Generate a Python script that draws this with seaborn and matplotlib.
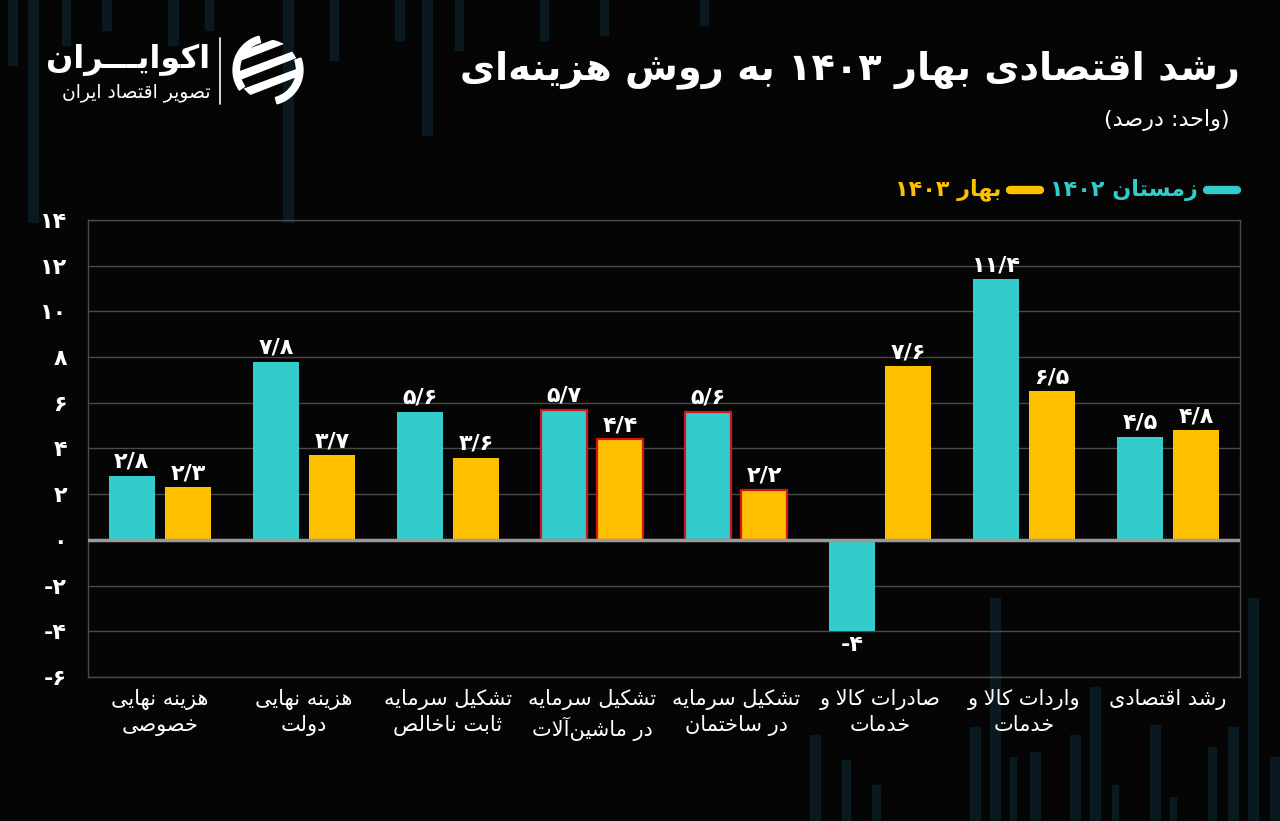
import re
import numpy as np
import pandas as pd
import matplotlib
matplotlib.use('Agg')
import matplotlib.pyplot as plt
from matplotlib import font_manager
from matplotlib.ft2font import FT2Font
from matplotlib.patches import Rectangle, Circle, Polygon, Wedge, FancyBboxPatch
from matplotlib.lines import Line2D
import seaborn as sns

# data
categories = ['هزینه نهایی\nخصوصی', 'هزینه نهایی\nدولت', 'تشکیل سرمایه\nثابت ناخالص',
              'تشکیل سرمایه\nدر ماشین‌آلات', 'تشکیل سرمایه\nدر ساختمان',
              'صادرات کالا و\nخدمات', 'واردات کالا و\nخدمات', 'رشد اقتصادی']
series = ['زمستان ۱۴۰۲', 'بهار ۱۴۰۳']
winter_1402 = [2.8, 7.8, 5.6, 5.7, 5.6, -4, 11.4, 4.5]
spring_1403 = [2.3, 3.7, 3.6, 4.4, 2.2, 7.6, 6.5, 4.8]
highlighted = [3, 4]
y_ticks = [-6, -4, -2, 0, 2, 4, 6, 8, 10, 12, 14]

title = 'رشد اقتصادی بهار ۱۴۰۳ به روش هزینه‌ای'
subtitle = '(واحد: درصد)'

teal = '#33CCCC'
yellow = '#FFC000'
bg = '#050505'
stripe = '#09191f'

sns.set_theme(style='dark')
plt.rcParams['font.family'] = ['DejaVu Sans']

# --- small arabic/persian shaping (matplotlib has no bidi) ---
reg_path = font_manager.findfont(font_manager.FontProperties(family='DejaVu Sans'))
bold_path = font_manager.findfont(font_manager.FontProperties(family='DejaVu Sans', weight='bold'))
fonts = [FT2Font(reg_path), FT2Font(bold_path)]


def has(cps):
    return all(f.get_char_index(c) for f in fonts for c in cps)


FORMS = {
    'ا': (0xFE8D, 0xFE8E), 'آ': (0xFE81, 0xFE82), 'د': (0xFEA9, 0xFEAA), 'ذ': (0xFEAB, 0xFEAC),
    'ر': (0xFEAD, 0xFEAE), 'ز': (0xFEAF, 0xFEB0), 'و': (0xFEED, 0xFEEE),
    'ب': (0xFE8F, 0xFE90, 0xFE91, 0xFE92), 'ت': (0xFE95, 0xFE96, 0xFE97, 0xFE98),
    'ث': (0xFE99, 0xFE9A, 0xFE9B, 0xFE9C), 'ج': (0xFE9D, 0xFE9E, 0xFE9F, 0xFEA0),
    'ح': (0xFEA1, 0xFEA2, 0xFEA3, 0xFEA4), 'خ': (0xFEA5, 0xFEA6, 0xFEA7, 0xFEA8),
    'س': (0xFEB1, 0xFEB2, 0xFEB3, 0xFEB4), 'ش': (0xFEB5, 0xFEB6, 0xFEB7, 0xFEB8),
    'ص': (0xFEB9, 0xFEBA, 0xFEBB, 0xFEBC), 'ض': (0xFEBD, 0xFEBE, 0xFEBF, 0xFEC0),
    'ط': (0xFEC1, 0xFEC2, 0xFEC3, 0xFEC4), 'ع': (0xFEC9, 0xFECA, 0xFECB, 0xFECC),
    'ف': (0xFED1, 0xFED2, 0xFED3, 0xFED4), 'ق': (0xFED5, 0xFED6, 0xFED7, 0xFED8),
    'ل': (0xFEDD, 0xFEDE, 0xFEDF, 0xFEE0), 'م': (0xFEE1, 0xFEE2, 0xFEE3, 0xFEE4),
    'ن': (0xFEE5, 0xFEE6, 0xFEE7, 0xFEE8), 'ه': (0xFEE9, 0xFEEA, 0xFEEB, 0xFEEC),
}
ye = (0xFBFC, 0xFBFD, 0xFBFE, 0xFBFF)
FORMS['ی'] = ye if has(ye) else (0xFEEF, 0xFEF0, 0xFEF3, 0xFEF4)
kaf = (0xFB8E, 0xFB8F, 0xFB90, 0xFB91)
FORMS['ک'] = kaf if has(kaf) else (0xFED9, 0xFEDA, 0xFEDB, 0xFEDC)
LAM_ALEF = {'ا': (0xFEFB, 0xFEFC), 'آ': (0xFEF5, 0xFEF6)}
TATWEEL = '\u0640'
ZWNJ = '\u200c'

fa_digits = '۰۱۲۳۴۵۶۷۸۹' if has([0x06F0 + i for i in range(10)]) else '٠١٢٣٤٥٦٧٨٩'


def joins_next(c):
    return c == TATWEEL or (c in FORMS and len(FORMS[c]) == 4)


def joinable(c):
    return c == TATWEEL or c in FORMS


def shape(text):
    out = []
    n = len(text)
    i = 0
    while i < n:
        c = text[i]
        if c == ZWNJ:
            i += 1
            continue
        if c not in FORMS:
            out.append(c)
            i += 1
            continue
        link_prev = i > 0 and joins_next(text[i - 1])
        if c == 'ل' and i + 1 < n and text[i + 1] in LAM_ALEF:
            lig = LAM_ALEF[text[i + 1]]
            out.append(chr(lig[1] if link_prev else lig[0]))
            i += 2
            continue
        f = FORMS[c]
        link_next = len(f) == 4 and i + 1 < n and joinable(text[i + 1])
        if link_prev and link_next:
            code = f[3]
        elif link_prev:
            code = f[1]
        elif link_next:
            code = f[2]
        else:
            code = f[0]
        out.append(chr(code))
        i += 1
    return ''.join(out)


def fa(text):
    text = text.translate(str.maketrans('۰۱۲۳۴۵۶۷۸۹', fa_digits))
    lines = []
    for line in text.split('\n'):
        s = shape(line)[::-1]
        s = re.sub(r'[0-9۰-۹٠-٩]+', lambda m: m.group(0)[::-1], s)
        s = s.translate(str.maketrans('()', ')('))
        lines.append(s)
    return '\n'.join(lines)


def fa_num(v):
    s = f'{v:g}'.replace('.', '/')
    return s.translate(str.maketrans('0123456789', fa_digits))


# --- figure ---
W, H = 1280, 821
fig = plt.figure(figsize=(12.8, 8.21), dpi=100, facecolor=bg)

# faint decorative stripes in the background (x, width, y end / y start in px)
top_stripes = [(8, 9, 65), (28, 10, 222), (62, 8, 45), (102, 9, 30), (168, 10, 45), (205, 8, 30),
               (283, 10, 222), (330, 8, 60), (395, 9, 40), (422, 10, 135), (455, 8, 50),
               (540, 8, 40), (600, 8, 35), (700, 8, 25)]
bottom_stripes = [(810, 10, 735), (842, 8, 760), (872, 8, 785), (970, 10, 727), (990, 10, 598),
                  (1010, 6, 757), (1030, 10, 752), (1070, 10, 735), (1090, 10, 687),
                  (1112, 6, 785), (1150, 10, 725), (1170, 6, 797), (1208, 8, 747),
                  (1228, 10, 727), (1248, 10, 598), (1270, 10, 757)]
for x, w, y1 in top_stripes:
    fig.patches.append(Rectangle((x / W, 1 - y1 / H), w / W, y1 / H, transform=fig.transFigure,
                                 color=stripe, zorder=-5))
for x, w, y0 in bottom_stripes:
    fig.patches.append(Rectangle((x / W, 0), w / W, 1 - y0 / H, transform=fig.transFigure,
                                 color=stripe, zorder=-5))

ax = fig.add_axes([88 / W, 1 - 677 / H, 1152 / W, 457 / H])
ax.set_facecolor('none')

df = pd.DataFrame({
    'category': categories * 2,
    'series': [series[0]] * len(categories) + [series[1]] * len(categories),
    'value': winter_1402 + spring_1403,
})

sns.barplot(data=df, x='category', y='value', hue='series', order=categories, hue_order=series,
            palette=[teal, yellow], width=0.78, gap=0.18, saturation=1, legend=False,
            errorbar=None, linewidth=0, ax=ax, zorder=2)

for i in highlighted:
    for cont in ax.containers:
        cont[i].set_edgecolor('#d4141c')
        cont[i].set_linewidth(1.6)

for cont, vals in zip(ax.containers, [winter_1402, spring_1403]):
    ax.bar_label(cont, labels=[fa_num(v) for v in vals], padding=3, color='white',
                 fontsize=16, fontweight='bold')

ax.set_ylim(-6, 14)
ax.set_yticks(y_ticks)
ax.set_yticklabels([fa_num(t) for t in y_ticks], color='white', fontsize=16, fontweight='bold')
ax.set_xticks(range(len(categories)))
ax.set_xticklabels([fa(c) for c in categories], color='white', fontsize=15, linespacing=1.3)
ax.tick_params(axis='x', length=0, pad=9)
ax.tick_params(axis='y', length=0, pad=15)
ax.set_xlabel('')
ax.set_ylabel('')
ax.yaxis.grid(True, color='#4a4a4a', lw=1)
ax.xaxis.grid(False)
ax.set_axisbelow(True)
ax.axhline(0, color='#9a9a9a', lw=2.5, zorder=3)
for sp in ax.spines.values():
    sp.set_visible(True)
    sp.set_color('#4a4a4a')
    sp.set_linewidth(1)

# titles
fig.text(1240 / W, 1 - 70 / H, fa(title), ha='right', va='center', color='white',
         fontsize=27.5, fontweight='bold')
fig.text(1230 / W, 1 - 120 / H, fa(subtitle), ha='right', va='center', color='white', fontsize=16)

# legend (right to left)
fig.canvas.draw()
r = fig.canvas.get_renderer()
x = 1240
yl = 1 - 190 / H
for name, col in zip(series, [teal, yellow]):
    fig.add_artist(Line2D([(x - 33) / W, (x - 3) / W], [yl, yl], color=col, lw=6,
                          solid_capstyle='round'))
    x -= 42
    t = fig.text(x / W, yl, fa(name), color=col, fontsize=16, fontweight='bold', ha='right',
                 va='center')
    x = t.get_window_extent(r).x0 - 7

# logo
fig.text(210 / W, 1 - 60 / H, fa('اکوایـــران'), ha='right', va='center', color='white',
         fontsize=23, fontweight='bold')
fig.text(210 / W, 1 - 93 / H, fa('تصویر اقتصاد ایران'), ha='right', va='center', color='white',
         fontsize=13.5)
fig.add_artist(Line2D([220 / W, 220 / W], [1 - 38 / H, 1 - 104 / H], color='white', lw=1.2))
lax = fig.add_axes([230 / W, 1 - 108 / H, 76 / W, 76 / H])
lax.set_xlim(-1, 1)
lax.set_ylim(-1, 1)
lax.axis('off')
lax.add_patch(Wedge((0, 0), 0.92, 105, 215, width=0.17, color='white'))
lax.add_patch(Wedge((0, 0), 0.92, 285, 20, width=0.17, color='white'))
clip = Circle((0, 0), 0.8, transform=lax.transData)
for dy in [0.5, 0.0, -0.5]:
    p = Polygon([(-0.75, dy - 0.25), (1.05, dy + 0.45), (1.05, dy + 0.62), (-0.75, dy - 0.05)],
                color='white')
    lax.add_patch(p)
    p.set_clip_path(clip)

plt.savefig('out.png', dpi=100, facecolor=bg)
